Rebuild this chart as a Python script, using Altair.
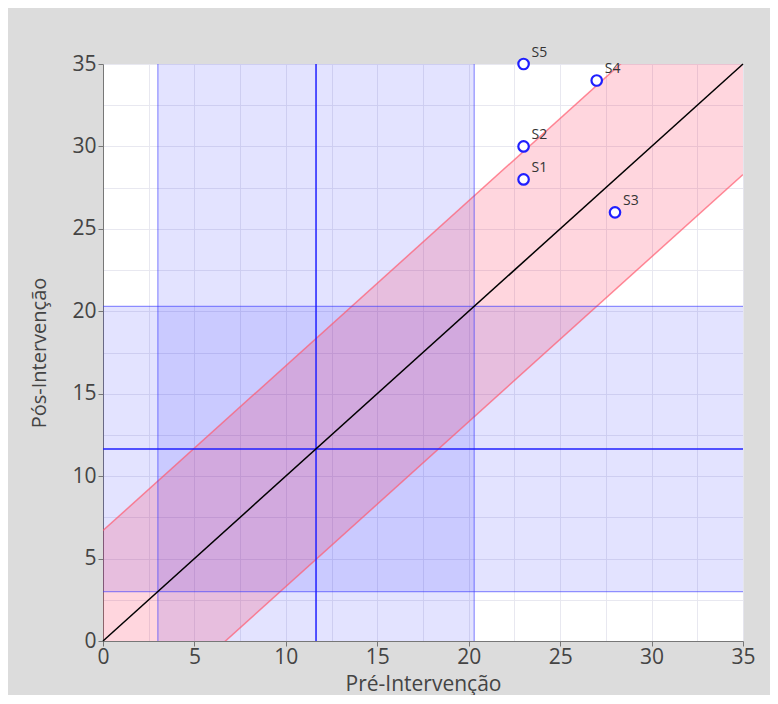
import altair as alt
import pandas as pd
import numpy as np

# Data
subjects = ["S1", "S2", "S3", "S4", "S5"]
pre_vals = [23, 23, 28, 27, 23]
pos_vals = [28, 30, 26, 34, 35]

mean_val = 11.65
band_low = 3.0
band_high = 20.3
rci = 6.7
axis_max = 35

pts = pd.DataFrame({"pre": pre_vals, "pos": pos_vals, "label": subjects})
diag = pd.DataFrame({"x": [0, axis_max]})
diag["lo"] = diag["x"] - rci
diag["hi"] = diag["x"] + rci
diag["y"] = diag["x"]

band = pd.DataFrame({"lo": [band_low], "hi": [band_high], "m": [mean_val], "z0": [0], "z1": [axis_max]})

grid_vals = list(np.arange(0, axis_max + 0.01, 2.5))
sc = alt.Scale(domain=[0, axis_max], nice=False, zero=True)

tick_op = {"condition": {"test": "datum.value % 5 === 0", "value": 1}, "value": 0}

xax = alt.Axis(values=grid_vals, labelExpr="datum.value % 5 === 0 ? datum.label : ''",
               tickOpacity=tick_op, title="Pré-Intervenção", grid=True, labelFlush=False,
               titleFontSize=21, labelPadding=0, titlePadding=6)
yax = alt.Axis(values=grid_vals, labelExpr="datum.value % 5 === 0 ? datum.label : ''",
               tickOpacity=tick_op, title="Pós-Intervenção", grid=True, labelFlush=False,
               titleFontSize=20, labelPadding=2, titlePadding=22)

base_band = alt.Chart(band)

vband = base_band.mark_rect(color="#0000ff", opacity=0.11).encode(
    x=alt.X("lo:Q", scale=sc, axis=xax), x2="hi:Q",
    y=alt.Y("z0:Q", scale=sc, axis=yax), y2="z1:Q")
hband = base_band.mark_rect(color="#0000ff", opacity=0.11).encode(
    y=alt.Y("lo:Q", scale=sc), y2="hi:Q", x=alt.X("z0:Q", scale=sc), x2="z1:Q")

red_area = alt.Chart(diag).mark_area(color="#ff0032", opacity=0.16, clip=True).encode(
    x=alt.X("x:Q", scale=sc), y=alt.Y("lo:Q", scale=sc), y2="hi:Q")
red_lo = alt.Chart(diag).mark_line(color="#ff5a6e", opacity=0.7, strokeWidth=1.5, clip=True).encode(
    x=alt.X("x:Q", scale=sc), y=alt.Y("lo:Q", scale=sc))
red_hi = alt.Chart(diag).mark_line(color="#ff5a6e", opacity=0.7, strokeWidth=1.5, clip=True).encode(
    x=alt.X("x:Q", scale=sc), y=alt.Y("hi:Q", scale=sc))

edge_v = alt.Chart(pd.DataFrame({"v": [band_low, band_high]})).mark_rule(
    color="#3c3cff", opacity=0.55, strokeWidth=1.2).encode(x=alt.X("v:Q", scale=sc))
edge_h = alt.Chart(pd.DataFrame({"v": [band_low, band_high]})).mark_rule(
    color="#3c3cff", opacity=0.55, strokeWidth=1.2).encode(y=alt.Y("v:Q", scale=sc))

mean_v = base_band.mark_rule(color="#2020ff", strokeWidth=1.5).encode(x=alt.X("m:Q", scale=sc))
mean_h = base_band.mark_rule(color="#2020ff", strokeWidth=1.5).encode(y=alt.Y("m:Q", scale=sc))

diag_line = alt.Chart(diag).mark_line(color="#000000", strokeWidth=1.5).encode(
    x=alt.X("x:Q", scale=sc), y=alt.Y("y:Q", scale=sc))

points = alt.Chart(pts).mark_point(shape="circle", filled=False, fill="white", fillOpacity=1,
                                   color="#1f1fff", strokeWidth=2.2, size=110, opacity=1, clip=False).encode(
    x=alt.X("pre:Q", scale=sc), y=alt.Y("pos:Q", scale=sc))
labels = alt.Chart(pts).mark_text(align="left", baseline="alphabetic", dx=8, dy=-7, fontSize=14,
                                  color="#333333", font="Open Sans").encode(
    x=alt.X("pre:Q", scale=sc), y=alt.Y("pos:Q", scale=sc), text="label:N")

chart = alt.layer(vband, hband, red_area, red_lo, red_hi, edge_v, edge_h, mean_v, mean_h,
                  diag_line, points, labels).properties(
    width=640, height=577,
    autosize=alt.AutoSizeParams(type="none"),
    padding={"left": 95, "top": 56, "right": 27, "bottom": 54},
    background="#dcdcdc",
).configure_view(fill="white", stroke=None).configure_axis(
    gridColor="#e6e6ee", gridOpacity=0.9, gridWidth=1,
    domainColor="#777777", tickColor="#777777", tickSize=5,
    labelFont="Open Sans", labelFontSize=21, labelColor="#444444",
    titleFont="Open Sans", titleFontWeight="normal", titleColor="#444444",
)

chart.save("out.html", embed_options={"renderer": "svg", "actions": False})
